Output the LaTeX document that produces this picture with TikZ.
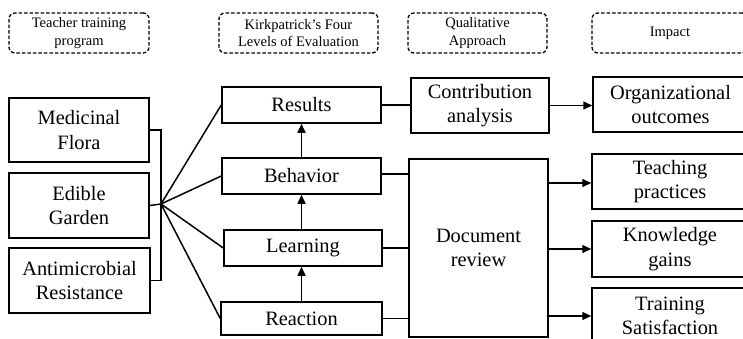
\documentclass[tikz,border=0pt]{standalone}
\usepackage{fontspec}
\setmainfont{Liberation Serif}
\usetikzlibrary{arrows.meta,calc}
\begin{document}
\begin{tikzpicture}[x=1pt,y=-1pt,
  box/.style={draw,line width=1.5pt,inner sep=0pt,align=center,
    font=\fontsize{20.4}{24.5}\selectfont},
  hdr/.style={draw,line width=1.3pt,dash pattern=on 3.5pt off 2pt,rounded corners=6pt,
    inner sep=0pt,align=center,minimum height=40pt,
    font=\fontsize{14.5}{17.4}\selectfont},
  conn/.style={line width=1.5pt},
  arr/.style={line width=1.5pt,-{Triangle[length=9pt,width=8pt]}}]
\useasboundingbox (0,0) rectangle (743,338);
% headers
\node[hdr,minimum width=140pt] (h1) at (79,33) {Teacher training\\program};
\node[hdr,minimum width=159pt] (h2) at (298.5,33) {Kirkpatrick’s Four\\Levels of Evaluation};
\node[hdr,minimum width=139pt] (h3) at (477.5,33) {Qualitative\\Approach};
\node[hdr,minimum width=156pt] (h4) at (670,33) {Impact};
% programs
\node[box,minimum width=140pt,minimum height=64pt] (med) at (79,130) {Medicinal\\Flora};
\node[box,minimum width=140pt,minimum height=65pt] (edi) at (79,205.5) {Edible\\Garden};
\node[box,minimum width=141pt,minimum height=65pt] (ant) at (79.5,280.5) {Antimicrobial\\Resistance};
% levels
\node[box,minimum width=159pt,minimum height=36pt] (res) at (301.5,105) {Results};
\node[box,minimum width=159pt,minimum height=36pt] (beh) at (301.5,176) {Behavior};
\node[box,minimum width=158pt,minimum height=36pt] (lea) at (303,248) {Learning};
\node[box,minimum width=161pt,minimum height=33pt] (rea) at (301.5,318.5) {Reaction};
% approach
\node[box,minimum width=138pt,minimum height=55pt] (con) at (480,105.5) {Contribution\\analysis};
\node[box,minimum width=139pt,minimum height=178pt] (doc) at (478.5,248) {Document\\review};
% impact
\node[box,minimum width=155pt,minimum height=55pt] (org) at (670.5,104.5) {Organizational\\outcomes};
\node[box,minimum width=156pt,minimum height=55pt] (tea) at (670,181.5) {Teaching\\practices};
\node[box,minimum width=156pt,minimum height=56pt] (kno) at (670,249) {Knowledge\\gains};
\node[box,minimum width=156pt,minimum height=56pt] (tra) at (670,316) {Training\\Satisfaction};
% hub
\coordinate (hub) at (161,204);
\draw[conn] (med.east) -| (hub) |- (ant.east);
\draw[conn] (edi.east) -- (hub);
\draw[conn] (hub) -- (res.west);
\draw[conn] (hub) -- (beh.west);
\draw[conn] (hub) -- (lea.west);
\draw[conn] (hub) -- (rea.west);
% level arrows
\draw[arr] (rea.north) -- (rea.north |- lea.south);
\draw[arr] (lea.north -| beh.south) -- (beh.south);
\draw[arr] (beh.north) -- (res.south);
% to approach
\draw[conn] (res.east) -- (res.east -| con.west);
\draw[conn] ($(beh.east)+(0,-2)$) -- ($(beh.east -| doc.west)+(0,-2)$);
\draw[conn] (lea.east) -- (lea.east -| doc.west);
\draw[conn] (rea.east) -- (rea.east -| doc.west);
% to impact
\draw[arr] (con.east) -- (con.east -| org.west);
\draw[arr] ($(tea.west -| doc.east)+(0,1.5)$) -- ($(tea.west)+(0,1.5)$);
\draw[arr] (kno.west -| doc.east) -- (kno.west);
\draw[arr] (tra.west -| doc.east) -- (tra.west);
\end{tikzpicture}
\end{document}
